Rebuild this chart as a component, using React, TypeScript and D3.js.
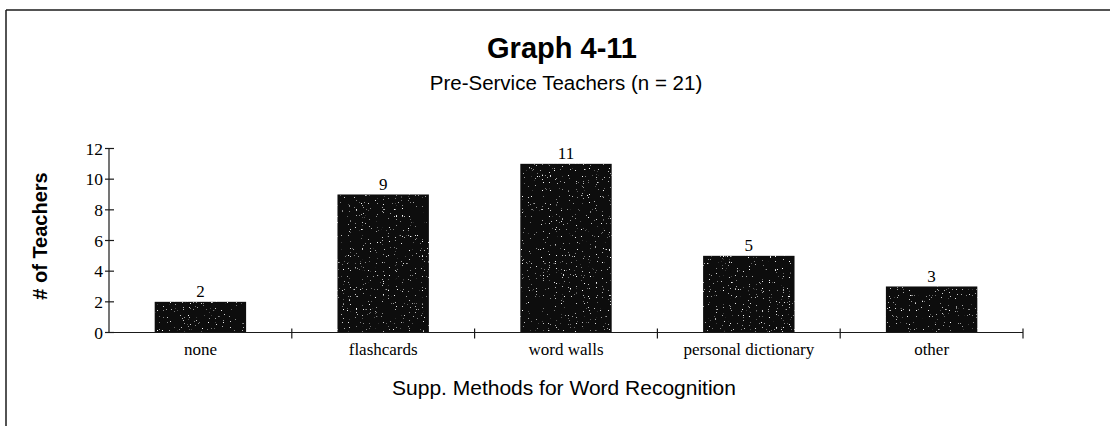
import React from "react";
import * as d3 from "d3";

const categories = ["none", "flashcards", "word walls", "personal dictionary", "other"];
const values = [2, 9, 11, 5, 3];
const yTicks = [0, 2, 4, 6, 8, 10, 12];
const title = "Graph 4-11";
const subtitle = "Pre-Service Teachers (n = 21)";
const xTitle = "Supp. Methods for Word Recognition";
const yTitle = "# of Teachers";

const W = 1110;
const H = 426;
const SANS = "'Liberation Sans', Arial, sans-serif";
const SERIF = "'Liberation Serif', 'Times New Roman', serif";

export default function App() {
  const x = d3
    .scaleBand<string>()
    .domain(categories)
    .range([109, 1023])
    .paddingInner(0.5)
    .paddingOuter(0.25);
  const y = d3.scaleLinear().domain([0, 12]).range([332.5, 148.5]);
  const step = x.step();
  const x0 = x.range()[0];
  const boundaries = d3.range(1, categories.length + 1).map((i) => x0 + i * step);
  const ink = "#1a1a1a";

  return (
    <svg
      width={W}
      height={H}
      style={{ position: "absolute", left: 0, top: 0, background: "#fff" }}
    >
      <defs>
        <filter id="speckle" x="0" y="0" width="1" height="1">
          <feTurbulence type="fractalNoise" baseFrequency="0.85" numOctaves="1" seed="7" result="n" />
          <feColorMatrix
            in="n"
            type="matrix"
            values="0 0 0 0 1  0 0 0 0 1  0 0 0 0 1  12 0 0 0 -8.2"
            result="dots"
          />
          <feComposite in="dots" in2="SourceGraphic" operator="in" result="d2" />
          <feMerge>
            <feMergeNode in="SourceGraphic" />
            <feMergeNode in="d2" />
          </feMerge>
        </filter>
      </defs>
      <rect x={0} y={0} width={W} height={H} fill="#fff" />
      {/* frame */}
      <line x1={6} y1={10} x2={W} y2={10} stroke={ink} strokeWidth={1.5} />
      <line x1={6} y1={10} x2={6} y2={H} stroke={ink} strokeWidth={1.5} />

      {/* titles */}
      <text x={562} y={58} textAnchor="middle" fontFamily={SANS} fontWeight="bold" fontSize={29} fill="#000">
        {title}
      </text>
      <text x={566} y={90} textAnchor="middle" fontFamily={SANS} fontSize={20.5} fill="#000">
        {subtitle}
      </text>

      {/* bars */}
      {categories.map((c, i) => (
        <rect
          key={c}
          x={x(c)}
          y={y(values[i])}
          width={x.bandwidth()}
          height={y(0) - y(values[i])}
          fill="#0c0c0c"
          filter="url(#speckle)"
        />
      ))}
      {categories.map((c, i) => (
        <text
          key={c + "v"}
          x={(x(c) as number) + x.bandwidth() / 2}
          y={y(values[i]) - 5}
          textAnchor="middle"
          fontFamily={SERIF}
          fontSize={17}
          fill="#000"
        >
          {values[i]}
        </text>
      ))}

      {/* y axis */}
      <line x1={x0} y1={y(0)} x2={x0} y2={y(12)} stroke={ink} strokeWidth={1.2} />
      {yTicks.map((t) => (
        <g key={t}>
          <line x1={x0 - 4} x2={x0 + 5} y1={y(t)} y2={y(t)} stroke={ink} strokeWidth={1.2} />
          <text
            x={x0 - 6}
            y={y(t)}
            dy="0.35em"
            textAnchor="end"
            fontFamily={SERIF}
            fontSize={17.5}
            fill="#000"
          >
            {t}
          </text>
        </g>
      ))}

      {/* x axis */}
      <line x1={x0} y1={y(0)} x2={x0 + step * categories.length} y2={y(0)} stroke={ink} strokeWidth={1.2} />
      {boundaries.map((b, i) => (
        <line key={i} x1={b} x2={b} y1={y(0) - 4} y2={y(0) + 6} stroke={ink} strokeWidth={1.2} />
      ))}
      {categories.map((c) => (
        <text
          key={c + "l"}
          x={(x(c) as number) + x.bandwidth() / 2}
          y={355}
          textAnchor="middle"
          fontFamily={SERIF}
          fontSize={17}
          fill="#000"
        >
          {c}
        </text>
      ))}

      <text x={564} y={395} textAnchor="middle" fontFamily={SANS} fontSize={21} fill="#000">
        {xTitle}
      </text>
      <text
        transform={`translate(47,236) rotate(-90)`}
        textAnchor="middle"
        fontFamily={SANS}
        fontWeight="bold"
        fontSize={20}
        fill="#000"
      >
        {yTitle}
      </text>
    </svg>
  );
}
